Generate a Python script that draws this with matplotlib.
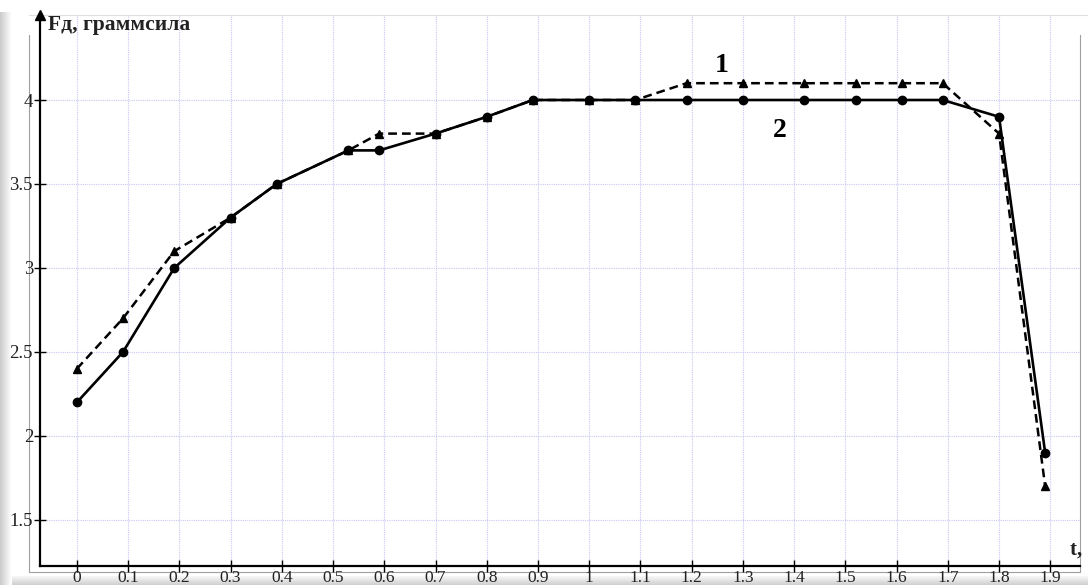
import matplotlib
matplotlib.use("Agg")
import matplotlib.pyplot as plt
from matplotlib.patches import Rectangle
from matplotlib.lines import Line2D

# Data
t1 = [0.0, 0.09, 0.19, 0.30, 0.39, 0.53, 0.59, 0.70, 0.80, 0.89, 1.00, 1.09, 1.19, 1.30, 1.42, 1.52, 1.61, 1.69, 1.80, 1.89]
f1 = [2.4, 2.7, 3.1, 3.3, 3.5, 3.7, 3.8, 3.8, 3.9, 4.0, 4.0, 4.0, 4.1, 4.1, 4.1, 4.1, 4.1, 4.1, 3.8, 1.7]
t2 = [0.0, 0.09, 0.19, 0.30, 0.39, 0.53, 0.59, 0.70, 0.80, 0.89, 1.00, 1.09, 1.19, 1.30, 1.42, 1.52, 1.61, 1.69, 1.80, 1.89]
f2 = [2.2, 2.5, 3.0, 3.3, 3.5, 3.7, 3.7, 3.8, 3.9, 4.0, 4.0, 4.0, 4.0, 4.0, 4.0, 4.0, 4.0, 4.0, 3.9, 1.9]
xticks = [round(0.1 * i, 1) for i in range(20)]
xticklabels = ["0", "0.1", "0.2", "0.3", "0.4", "0.5", "0.6", "0.7", "0.8", "0.9",
               "1", "1.1", "1.2", "1.3", "1.4", "1.5", "1.6", "1.7", "1.8", "1.9"]
yticks = [1.5, 2, 2.5, 3, 3.5, 4]
yticklabels = ["1.5", "2", "2.5", "3", "3.5", "4"]

W, H = 1088, 585
fig = plt.figure(figsize=(W / 100, H / 100), dpi=100)
fig.patch.set_facecolor("white")

def fx(px):
    return px / W

def fy(py):
    return 1 - py / H

# bevel frame (decorative, behind the axes)
for i in range(12):
    g = 0.80 + 0.018 * i
    fig.patches.append(Rectangle((fx(i), 0), fx(1), fy(12), transform=fig.transFigure,
                                 facecolor=(g, g, g), edgecolor="none", zorder=-5))
for i in range(10):
    g = 0.80 + 0.018 * (9 - i)
    fig.patches.append(Rectangle((fx(12), fy(576 + i) - 1 / H), 1, 1 / H, transform=fig.transFigure,
                                 facecolor=(g, g, g), edgecolor="none", zorder=-5))
fig.lines.append(Line2D([fx(29), fx(29), fx(1080), fx(1080)], [fy(35), fy(572), fy(572), fy(35)],
                        transform=fig.transFigure, color="#a0a0a0", lw=0.8, zorder=-4))
fig.lines.append(Line2D([fx(29), fx(1088)], [fy(15), fy(15)],
                        transform=fig.transFigure, color="#e0e0e0", lw=0.8, zorder=-4))

ax = fig.add_axes([40 / W, (H - 566) / H, 1040 / W, 551 / H])
ax.set_facecolor("none")
ax.set_xlim(-0.072, 1.958)
ax.set_ylim(1.226, 4.506)

ax.plot(t1, f1, color="black", lw=1.8, ls=(0, (3.5, 2)), marker="^", ms=6, zorder=3)
ax.plot(t2, f2, color="black", lw=1.9, ls="-", marker="o", ms=6, zorder=4)

ax.set_xticks(xticks)
ax.set_xticklabels(xticklabels)
ax.set_yticks(yticks)
ax.set_yticklabels(yticklabels)
ax.grid(True, color="#c8c8f4", lw=0.8, ls=(0, (1, 1)))
ax.set_axisbelow(True)

for s in ["top", "right"]:
    ax.spines[s].set_visible(False)
for s in ["left", "bottom"]:
    ax.spines[s].set_linewidth(1.6)
    ax.spines[s].set_color("black")

ax.tick_params(axis="both", direction="inout", length=8, width=1.0, colors="black")
ax.tick_params(axis="y", pad=1, labelsize=13.5, labelcolor="#222222")
ax.tick_params(axis="x", pad=-1, labelsize=12.5, labelcolor="#222222")
for lab in ax.get_xticklabels() + ax.get_yticklabels():
    lab.set_fontfamily("Liberation Serif")

# y-axis arrow
ax.plot([-0.072], [4.506], marker="^", color="black", ms=7, clip_on=False, zorder=5)

serif = ["Liberation Serif", "DejaVu Serif"]
fig.text(fx(48), fy(25), "Fд, граммсила", family=serif, fontweight="bold", fontsize=15.5,
         color="#222222", ha="left", va="center")
fig.text(fx(1070), fy(550), "t, с", family=serif, fontweight="bold", fontsize=15,
         color="#222222", ha="left", va="center")
ax.text(1.259, 4.208, "1", family=serif, fontweight="bold", fontsize=20, ha="center", va="center")
ax.text(1.372, 3.816, "2", family=serif, fontweight="bold", fontsize=20, ha="center", va="center")

fig.savefig("out.png", dpi=100, facecolor="white")
